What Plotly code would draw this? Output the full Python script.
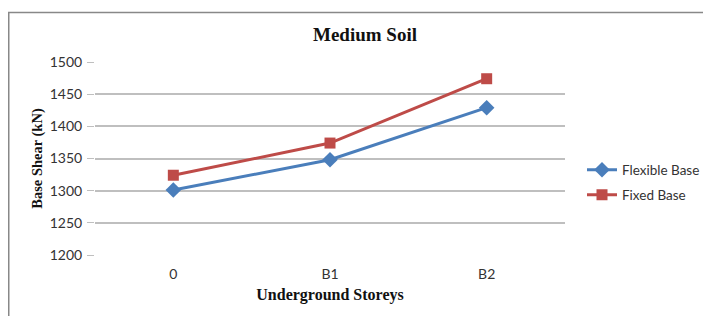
import plotly.graph_objects as go

categories = ["0", "B1", "B2"]
flexible_base = [1301, 1348, 1429]
fixed_base = [1324, 1374, 1474]
y_ticks = [1200, 1250, 1300, 1350, 1400, 1450, 1500]

# page has an 8px body margin; work in figure coordinates
OFF = 8
W, H = 711 - OFF, 316 - OFF
L, R, T, B = 95 - OFF, 146, 62 - OFF, 61
pw, ph = W - L - R, H - T - B

tick_font = dict(family="Lato, sans-serif", size=14, color="#333333")
legend_font = dict(family="Lato, sans-serif", size=13.5, color="#333333")

fig = go.Figure()
fig.add_trace(go.Scatter(
    x=categories, y=flexible_base, name="Flexible Base", mode="lines+markers",
    line=dict(color="#4A7EBB", width=3),
    marker=dict(symbol="diamond", size=12, color="#4A7EBB"),
    legend="legend",
))
fig.add_trace(go.Scatter(
    x=categories, y=fixed_base, name="Fixed Base", mode="lines+markers",
    line=dict(color="#BE4B48", width=3),
    marker=dict(symbol="square", size=11, color="#BE4B48"),
    legend="legend2",
))

def px_x(p):
    return (p - OFF - L) / pw

def px_y(p):
    return 1 - (p - OFF - T) / ph

fig.update_layout(
    width=W, height=H,
    margin=dict(l=L, r=R, t=T, b=B, pad=0, autoexpand=False),
    paper_bgcolor="white", plot_bgcolor="white",
    showlegend=True,
    legend=dict(
        x=px_x(582), y=px_y(170), xanchor="left", yanchor="middle",
        font=legend_font, itemwidth=30, bgcolor="rgba(0,0,0,0)",
    ),
    legend2=dict(
        x=px_x(582), y=px_y(195), xanchor="left", yanchor="middle",
        font=legend_font, itemwidth=30, bgcolor="rgba(0,0,0,0)",
    ),
    xaxis=dict(
        type="category", range=[-0.5, 2.5],
        showgrid=False, zeroline=False, showline=False, ticks="",
        ticklabelstandoff=9,
        tickfont=tick_font,
        title=dict(text="<b>Underground Storeys</b>",
                   font=dict(family="Liberation Serif, serif", size=16, color="#111"),
                   standoff=7),
    ),
    yaxis=dict(
        range=[1200, 1500], tickvals=y_ticks,
        showgrid=True, gridcolor="#BFBFBF", gridwidth=1.5,
        zeroline=False, showline=False,
        ticks="outside", ticklen=7, tickcolor="#BFBFBF", tickwidth=1,
        ticklabelstandoff=2,
        tickfont=tick_font,
        title=dict(text="<b>Base Shear (kN)</b>",
                   font=dict(family="Liberation Serif, serif", size=14.5, color="#111"),
                   standoff=3),
    ),
    title=dict(text="<b>Medium Soil</b>", x=(365 - OFF) / W, xanchor="center",
               y=1 - (34 - OFF) / H, yanchor="middle",
               font=dict(family="Liberation Serif, serif", size=19, color="#111")),
    shapes=[
        dict(type="rect", xref="paper", yref="paper",
             x0=px_x(8.75), x1=px_x(760), y0=px_y(400), y1=px_y(12.5),
             line=dict(color="#888888", width=1.5), fillcolor="rgba(0,0,0,0)", layer="below"),
    ],
)

fig.write_html("out.html")
